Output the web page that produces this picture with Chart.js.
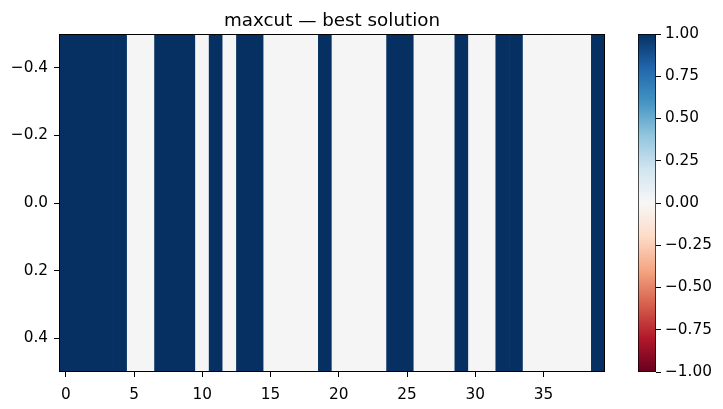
<!DOCTYPE html>
<html>
<head>
<meta charset="utf-8">
<script src="https://cdn.jsdelivr.net/npm/chart.js@4.4.1/dist/chart.umd.min.js"></script>
<style>
    body { margin: 0; background: #fff; }
    #wrap { position: relative; width: 723px; height: 409px; }
    #heatmap { position: absolute; left: 0; top: 0; }
    #colorbar { position: absolute; left: 600px; top: 0; }
</style>
</head>
<body>
<div id="wrap">
    <canvas id="heatmap" width="723" height="409"></canvas>
    <canvas id="colorbar" width="123" height="409"></canvas>
</div>
<script>
// Best maxcut partition: one row, 40 nodes (1 = one side, 0 = other)
const nodes = Array.from({ length: 40 }, (_, i) => String(i));
const solution = [
    1, 1, 1, 1, 1, 0, 0, 1, 1, 1,
    0, 1, 0, 1, 1, 0, 0, 0, 0, 1,
    0, 0, 0, 0, 1, 1, 0, 0, 0, 1,
    0, 0, 1, 1, 0, 0, 0, 0, 0, 1
];
const xTicks = [0, 5, 10, 15, 20, 25, 30, 35];
const yTicks = [-0.4, -0.2, 0.0, 0.2, 0.4];
const cbarTicks = [1.0, 0.75, 0.5, 0.25, 0.0, -0.25, -0.5, -0.75, -1.0];
const titleText = 'maxcut \u2014 best solution';

// RdBu colormap stops, from -1 to 1
const rdbu = ['#67001f', '#b2182b', '#d6604d', '#f4a582', '#fddbc7', '#f7f7f7',
              '#d1e5f0', '#92c5de', '#4393c3', '#2166ac', '#053061'];

const FONT = "'DejaVu Sans', sans-serif";
const TICK_SIZE = 15.3;
const TITLE_SIZE = 18.3;
Chart.defaults.font.family = FONT;
Chart.defaults.color = '#000';
Chart.defaults.animation = false;

function cellColor(v) {
    return v >= 1 ? '#053061' : '#f5f5f5';
}

function minusFmt(v, digits) {
    const s = Math.abs(v).toFixed(digits);
    return v < 0 ? '\u2212' + s : s;
}

// Black frame round the plot area, and the title centred over it (like matplotlib)
const framePlugin = {
    id: 'frame',
    afterDatasetsDraw(chart) {
        const a = chart.chartArea;
        const ctx = chart.ctx;
        ctx.save();
        ctx.strokeStyle = '#000';
        ctx.lineWidth = 1;
        ctx.strokeRect(a.left + 0.5, a.top + 0.5, a.right - a.left - 1, a.bottom - a.top - 1);
        ctx.fillStyle = '#000';
        ctx.font = `${TITLE_SIZE}px ${FONT}`;
        ctx.textAlign = 'center';
        ctx.textBaseline = 'alphabetic';
        ctx.fillText(titleText, (a.left + a.right) / 2, a.top - 8);
        ctx.restore();
    }
};

new Chart(document.getElementById('heatmap'), {
    type: 'bar',
    data: {
        labels: nodes,
        datasets: [{
            data: solution.map(() => [-0.5, 0.5]),
            backgroundColor: solution.map(cellColor),
            barPercentage: 1.0,
            categoryPercentage: 1.0,
            borderWidth: 0
        }]
    },
    options: {
        responsive: false,
        layout: { padding: { left: 0, right: 118, top: 34, bottom: 0 } },
        plugins: {
            legend: { display: false },
            tooltip: { enabled: false },
            title: { display: false }
        },
        scales: {
            x: {
                type: 'category',
                offset: true,
                grid: { display: true, drawOnChartArea: false, offset: false, tickLength: 5, color: '#000' },
                border: { display: false },
                ticks: {
                    autoSkip: false,
                    maxRotation: 0,
                    padding: 9,
                    font: { family: FONT, size: TICK_SIZE },
                    callback: function (value) {
                        const n = Number(this.getLabelForValue(value));
                        return xTicks.includes(n) ? String(n) : null;
                    }
                },
                afterFit(axis) { axis.height = 37; }
            },
            y: {
                type: 'linear',
                reverse: true,
                min: -0.5,
                max: 0.5,
                grid: { display: true, drawOnChartArea: false, tickLength: 5, color: '#000' },
                border: { display: false },
                ticks: {
                    padding: 6,
                    font: { family: FONT, size: TICK_SIZE },
                    callback: v => minusFmt(v, 1)
                },
                afterBuildTicks(axis) { axis.ticks = yTicks.map(v => ({ value: v })); },
                afterFit(axis) { axis.width = 59; }
            }
        }
    },
    plugins: [framePlugin]
});

// Colorbar: one bar spanning -1..1, filled with the RdBu gradient
function cbarGradient(context) {
    const chart = context.chart;
    const a = chart.chartArea;
    if (!a) return '#f7f7f7';
    const g = chart.ctx.createLinearGradient(0, a.bottom, 0, a.top);
    rdbu.forEach((c, i) => g.addColorStop(i / (rdbu.length - 1), c));
    return g;
}

new Chart(document.getElementById('colorbar'), {
    type: 'bar',
    data: {
        labels: ['cbar'],
        datasets: [{
            data: [[-1, 1]],
            backgroundColor: cbarGradient,
            borderColor: '#000',
            borderWidth: 1,
            borderSkipped: false,
            barPercentage: 1.0,
            categoryPercentage: 1.0
        }]
    },
    options: {
        responsive: false,
        layout: { padding: { left: 38, right: 0, top: 34, bottom: 37 } },
        plugins: { legend: { display: false }, tooltip: { enabled: false } },
        scales: {
            x: { display: false },
            y: {
                position: 'right',
                min: -1,
                max: 1,
                grid: { display: true, drawOnChartArea: false, tickLength: 5, color: '#000' },
                border: { display: false },
                ticks: {
                    padding: 4,
                    font: { family: FONT, size: TICK_SIZE },
                    callback: v => minusFmt(v, 2)
                },
                afterBuildTicks(axis) { axis.ticks = cbarTicks.map(v => ({ value: v })); },
                afterFit(axis) { axis.width = 67; }
            }
        }
    }
});
</script>
</body>
</html>
